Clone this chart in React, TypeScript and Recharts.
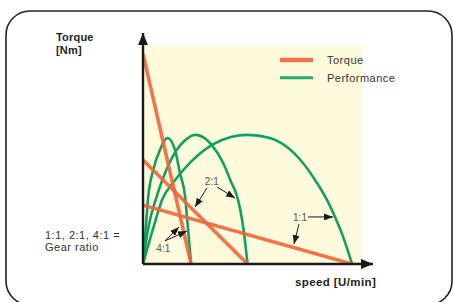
import React from 'react';
import {
  ComposedChart,
  Line,
  XAxis,
  YAxis,
  ReferenceArea,
  ReferenceLine,
  ReferenceDot,
  Legend,
} from 'recharts';

const FONT = '"Liberation Sans", Arial, Helvetica, sans-serif';
const TORQUE_COLOR = '#f1653b';
const PERF_COLOR = '#11a062';
const INK = '#1a1a1a';

// axis domains (arbitrary units)
const speedDomain = [0, 110];
const valueDomain = [0, 110];

// shaded panel extent
const panelSpeed = [0, 104.7];
const panelValue = [0, 104.3];

// torque lines
const torque41Speed = [0, 23];
const torque41Value = [100, 0];
const torque21Speed = [0, 50];
const torque21Value = [49.5, 0];
const torque11Speed = [0, 100];
const torque11Value = [28, 0];

// performance curves
const perf41Speed = [0, 1.3, 2.5, 4.9, 8.1, 11.7, 15.3, 17.7, 20.1, 21.5, 23];
const perf41Value = [0, 17, 32, 44.8, 54.3, 60, 54.3, 43.2, 32.4, 17.1, 0];
const perf21Speed = [0, 2.5, 6.5, 10.5, 16.1, 20, 25, 30, 32.8, 38.4, 42.4, 44.8, 48, 50];
const perf21Value = [0, 17, 32, 43.2, 54.3, 58.8, 61.5, 59.5, 56.7, 48, 38.4, 32.9, 17, 0];
const perf11Speed = [0, 4.9, 9.3, 14.3, 19.5, 26, 33, 42, 50, 60.7, 68.9, 76.5, 83.2, 88, 92, 95.5, 100];
const perf11Value = [0, 17.1, 31, 38.6, 45, 51.5, 56.7, 60.5, 61.5, 60, 55.7, 48.1, 38.6, 30.5, 22, 13.5, 0];

// legend
const legendLabels = ['Torque', 'Performance'];
const legendColors = [TORQUE_COLOR, PERF_COLOR];

// annotations
const annotationLabels = ['2:1', '1:1', '4:1'];
const annotationSpeed = [32.9, 75.1, 9.7];
const annotationValue = [39.2, 22.2, 7.5];
const arrowFromSpeed = [30.6, 35.4, 78.9, 74.6, 10.5, 10.5];
const arrowFromValue = [36.2, 36.7, 22.4, 19, 11, 11];
const arrowToSpeed = [24.9, 44, 90.9, 72.2, 17.2, 21];
const arrowToValue = [27.1, 31.4, 22.4, 9.5, 17.6, 15.7];

const toPoints = (xs: number[], ys: number[]) => xs.map((x, i) => ({ speed: x, value: ys[i] }));

const perfSeries = [
  toPoints(perf41Speed, perf41Value),
  toPoints(perf21Speed, perf21Value),
  toPoints(perf11Speed, perf11Value),
];
const torqueSeries = [
  toPoints(torque41Speed, torque41Value),
  toPoints(torque21Speed, torque21Value),
  toPoints(torque11Speed, torque11Value),
];

const LegendBox = () => (
  <svg width={150} height={42} style={{ display: 'block', overflow: 'visible' }}>
    {legendLabels.map((label, i) => (
      <g key={label}>
        <line
          x1={5}
          x2={38}
          y1={12 + i * 17.7}
          y2={12 + i * 17.7}
          stroke={legendColors[i]}
          strokeWidth={i === 0 ? 4.5 : 3}
          strokeOpacity={0.9}
        />
        <text
          x={52}
          y={15.5 + i * 18.2}
          fontSize={11}
          letterSpacing={0.5}
          fill="#333"
          fontFamily={FONT}
        >
          {label}
        </text>
      </g>
    ))}
  </svg>
);

export default function App() {
  return (
    <div
      style={{
        position: 'absolute',
        left: 0,
        top: 0,
        width: 453,
        height: 302,
        fontFamily: FONT,
        background: '#fff',
        overflow: 'hidden',
      }}
    >
      <svg width={0} height={0} style={{ position: 'absolute' }}>
        <defs>
          <marker
            id="axisArrow"
            viewBox="0 0 12 10"
            refX={12}
            refY={5}
            markerWidth={12}
            markerHeight={10}
            markerUnits="userSpaceOnUse"
            orient="auto"
          >
            <path d="M0,0 L12,5 L0,10 z" fill={INK} />
          </marker>
          <marker
            id="smallArrow"
            viewBox="0 0 9 7"
            refX={9}
            refY={3.5}
            markerWidth={9}
            markerHeight={7}
            markerUnits="userSpaceOnUse"
            orient="auto"
          >
            <path d="M0,0 L9,3.5 L0,7 z" fill={INK} />
          </marker>
        </defs>
      </svg>
      <ComposedChart width={453} height={302} margin={{ top: 33, right: 80, bottom: 38, left: 143 }}>
        <ReferenceArea
          x1={panelSpeed[0]}
          x2={panelSpeed[1]}
          y1={panelValue[0]}
          y2={panelValue[1]}
          fill="#fefadc"
          fillOpacity={1}
          stroke="none"
          ifOverflow="visible"
        />
        <XAxis
          type="number"
          dataKey="speed"
          domain={speedDomain}
          allowDataOverflow
          tick={false}
          tickLine={false}
          axisLine={false}
          height={0}
        />
        <YAxis
          type="number"
          dataKey="value"
          domain={valueDomain}
          allowDataOverflow
          tick={false}
          tickLine={false}
          axisLine={false}
          width={0}
        />
        {perfSeries.map((d, i) => (
          <Line
            key={'p' + i}
            data={d}
            dataKey="value"
            type="monotone"
            stroke={PERF_COLOR}
            strokeWidth={2.6}
            dot={false}
            activeDot={false}
            legendType="none"
            isAnimationActive={false}
          />
        ))}
        {torqueSeries.map((d, i) => (
          <Line
            key={'t' + i}
            data={d}
            dataKey="value"
            type="linear"
            stroke={TORQUE_COLOR}
            strokeOpacity={0.9}
            strokeWidth={3.6}
            dot={false}
            activeDot={false}
            legendType="none"
            isAnimationActive={false}
          />
        ))}
        <ReferenceLine
          segment={[
            { x: speedDomain[0], y: valueDomain[0] },
            { x: speedDomain[1], y: valueDomain[0] },
          ]}
          stroke={INK}
          strokeWidth={2.4}
          ifOverflow="visible"
          {...({ markerEnd: 'url(#axisArrow)' } as any)}
        />
        <ReferenceLine
          segment={[
            { x: speedDomain[0], y: valueDomain[0] },
            { x: speedDomain[0], y: valueDomain[1] },
          ]}
          stroke={INK}
          strokeWidth={2.4}
          ifOverflow="visible"
          {...({ markerEnd: 'url(#axisArrow)' } as any)}
        />
        {arrowFromSpeed.map((sx, i) => (
          <ReferenceLine
            key={'a' + i}
            segment={[
              { x: sx, y: arrowFromValue[i] },
              { x: arrowToSpeed[i], y: arrowToValue[i] },
            ]}
            stroke={INK}
            strokeWidth={1}
            ifOverflow="visible"
            {...({ markerEnd: 'url(#smallArrow)' } as any)}
          />
        ))}
        {annotationLabels.map((lab, i) => (
          <ReferenceDot
            key={'l' + i}
            x={annotationSpeed[i]}
            y={annotationValue[i]}
            r={0}
            stroke="none"
            fill="none"
            ifOverflow="visible"
            label={{ value: lab, position: 'center', fontSize: 10, fill: '#555', fontFamily: FONT }}
          />
        ))}
        <Legend
          layout="vertical"
          align="center"
          verticalAlign="middle"
          wrapperStyle={{ left: 275, top: 48, width: 150, height: 42 }}
          content={() => <LegendBox />}
        />
      </ComposedChart>
      <svg
        width={453}
        height={302}
        style={{ position: 'absolute', left: 0, top: 0, pointerEvents: 'none' }}
      >
        <rect x={6} y={11} width={446} height={294} rx={24} ry={24} fill="none" stroke="#222" strokeWidth={1.6} />
        <text x={56} y={41} fontSize={11} fontWeight="bold" fill="#222" letterSpacing={0.2} fontFamily={FONT}>
          Torque
        </text>
        <text x={56} y={54} fontSize={11} fontWeight="bold" fill="#222" letterSpacing={0.2} fontFamily={FONT}>
          [Nm]
        </text>
        <text x={45} y={238.5} fontSize={11} fill="#333" letterSpacing={0.5} fontFamily={FONT}>
          1:1, 2:1, 4:1 =
        </text>
        <text x={45} y={251} fontSize={11} fill="#333" letterSpacing={0.5} fontFamily={FONT}>
          Gear ratio
        </text>
        <text x={295} y={286} fontSize={11.5} fontWeight="bold" fill="#222" letterSpacing={0.4} fontFamily={FONT}>
          speed [U/min]
        </text>
      </svg>
    </div>
  );
}
